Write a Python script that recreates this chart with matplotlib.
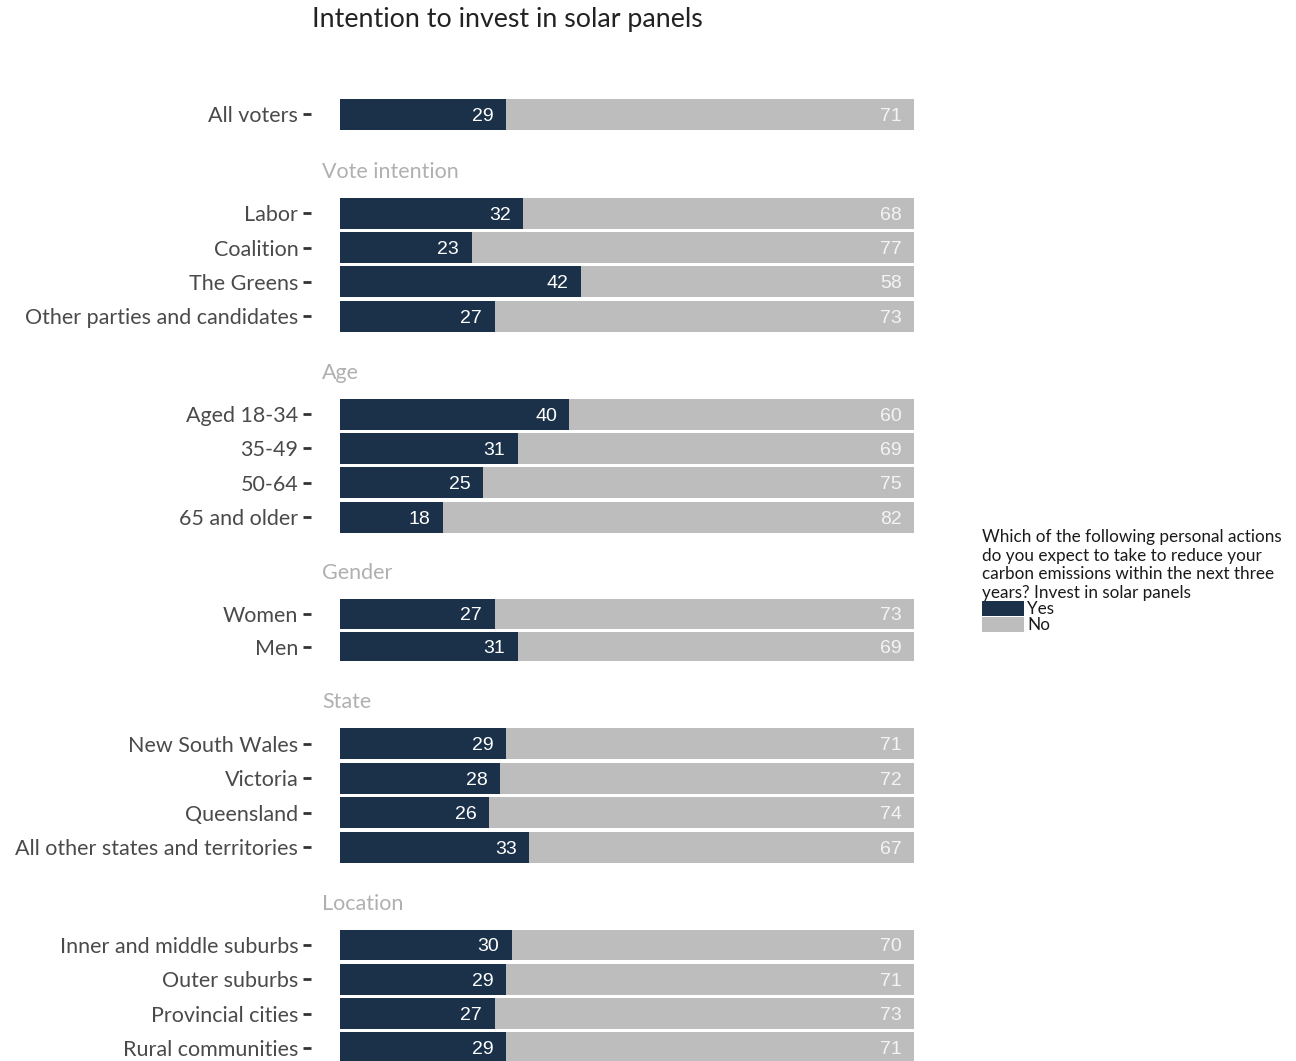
import matplotlib
matplotlib.use("Agg")
import matplotlib.pyplot as plt

# datos de la encuesta (porcentaje)
grupos = ["", "Vote intention", "Age", "Gender", "State", "Location"]
etiquetas = [
    ["All voters"],
    ["Labor", "Coalition", "The Greens", "Other parties and candidates"],
    ["Aged 18-34", "35-49", "50-64", "65 and older"],
    ["Women", "Men"],
    ["New South Wales", "Victoria", "Queensland", "All other states and territories"],
    ["Inner and middle suburbs", "Outer suburbs", "Provincial cities", "Rural communities"],
]
si = [
    [29],
    [32, 23, 42, 27],
    [40, 31, 25, 18],
    [27, 31],
    [29, 28, 26, 33],
    [30, 29, 27, 29],
]
no = [
    [71],
    [68, 77, 58, 73],
    [60, 69, 75, 82],
    [73, 69],
    [71, 72, 74, 67],
    [70, 71, 73, 71],
]

color_si = "#1b3149"
color_no = "#bdbdbd"

fuente_num = "Liberation Sans"
fuente = "Lato"

W, H = 1296, 1061
fig = plt.figure(figsize=(W / 100, H / 100), dpi=100)

# posicion de cada panel en pixeles (arriba, unidad por barra)
x_izq, x_der = 310.8, 943.0
tops = [93.4, 192.5, 393.4, 594.2, 722.8, 924.4]
unidades = [34.4, 34.4, 34.4, 32.7, 34.6, 34.3]

for g, labs, s, n, top, u in zip(grupos, etiquetas, si, no, tops, unidades):
    k = len(labs)
    alto = (k + 0.2) * u
    ax = fig.add_axes([x_izq / W, 1 - (top + alto) / H, (x_der - x_izq) / W, alto / H])
    ys = list(range(k))
    ax.barh(ys, s, height=0.9, color=color_si, label="Yes")
    ax.barh(ys, n, left=s, height=0.9, color=color_no, label="No")
    for y, a, b in zip(ys, s, n):
        ax.annotate(str(a), xy=(a, y), xytext=(-9, 0), textcoords="offset points",
                    ha="right", va="center_baseline", color="white", fontsize=14, family=fuente_num)
        ax.annotate(str(b), xy=(a + b, y), xytext=(-9, 0), textcoords="offset points",
                    ha="right", va="center_baseline", color="#f4f4f4", fontsize=14, family=fuente_num)
    ax.set_xlim(-5, 105)
    ax.set_ylim(k - 0.4, -0.6)
    ax.set_yticks(ys)
    ax.set_yticklabels(labs, fontsize=15.5, family=fuente, color="#4a4a4a")
    ax.tick_params(axis="y", length=6, width=2, color="#333333", pad=3)
    ax.set_xticks([])
    for sp in ax.spines.values():
        sp.set_visible(False)
    if g:
        ax.annotate(g, xy=(0, 1), xycoords="axes fraction", xytext=(8, 15),
                    textcoords="offset points", ha="left", va="center",
                    fontsize=15.5, family=fuente, color="#b0b0b0")
    if g == "Location":
        handles, leyendas = ax.get_legend_handles_labels()

fig.text(312 / W, 1 - 20 / H, "Intention to invest in solar panels", ha="left", va="center",
         fontsize=19.3, family=fuente, color="#222222")

titulo = ("Which of the following personal actions\ndo you expect to take to reduce your\n"
          "carbon emissions within the next three\nyears? Invest in solar panels")
leg = fig.legend(handles, leyendas, title=titulo, loc="upper left",
                 bbox_to_anchor=(982 / W, 1 - 529 / H), frameon=False,
                 fontsize=12.3, title_fontsize=12.3, alignment="left",
                 handlelength=2.45, handleheight=0.95, handletextpad=0.2,
                 labelspacing=0.0, borderpad=0, borderaxespad=0)
for t in leg.get_texts():
    t.set_family(fuente)
    t.set_color("#1a1a1a")
leg.get_title().set_family(fuente)
leg.get_title().set_color("#1a1a1a")
leg.get_title().set_linespacing(1.2)

fig.savefig("out.png", dpi=100)
